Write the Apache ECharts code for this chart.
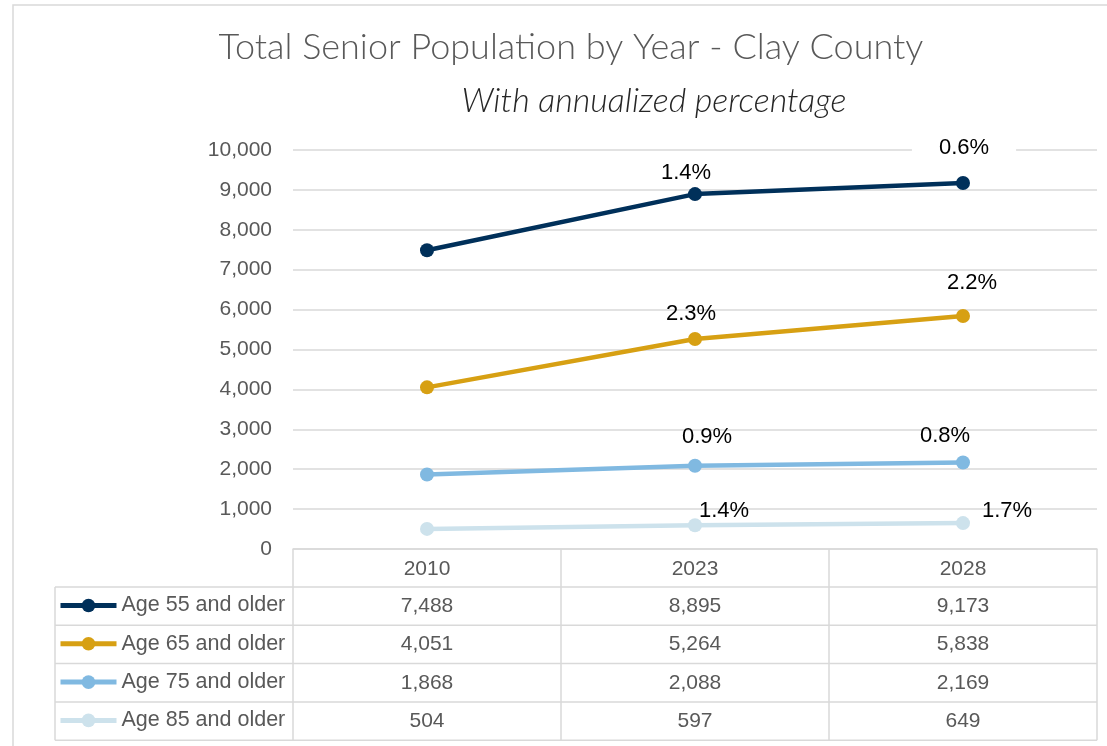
<!DOCTYPE html>
<html>
<head>
<meta charset="utf-8">
<script src="https://cdn.jsdelivr.net/npm/echarts@6/dist/echarts.min.js"></script>
<style>
  html, body { margin: 0; padding: 0; background: #fff; }
  #main { width: 1107px; height: 746px; }
</style>
</head>
<body>
<div id="main"></div>
<script>
// ---- data ----
const years = ['2010', '2023', '2028'];
const seriesNames = ['Age 55 and older', 'Age 65 and older', 'Age 75 and older', 'Age 85 and older'];
const age55 = [7488, 8895, 9173];
const age65 = [4051, 5264, 5838];
const age75 = [1868, 2088, 2169];
const age85 = [504, 597, 649];
const pct55 = [null, '1.4%', '0.6%'];
const pct65 = [null, '2.3%', '2.2%'];
const pct75 = [null, '0.9%', '0.8%'];
const pct85 = [null, '1.4%', '1.7%'];
const yTicks = [0, 1000, 2000, 3000, 4000, 5000, 6000, 7000, 8000, 9000, 10000];

// ---- styles (kept apart from data) ----
const colors = ['#00305a', '#d7a013', '#80b9e1', '#cde2ec'];
const labelOffsets = [
  [null, [-9, 2], [1, -10]],
  [null, [-4, -2], [9, -10]],
  [null, [12, -6], [-18, -4]],
  [null, [29, 9], [44, 11]]
];
const TXT = '#595959';
const LINE = '#d9d9d9';
const FONT = '"Liberation Sans", Arial, sans-serif';

const values = [age55, age65, age75, age85];
const pcts = [pct55, pct65, pct75, pct85];
const fmt = v => v.toLocaleString('en-US');

const chart = echarts.init(document.getElementById('main'), null, { renderer: 'canvas' });

const series = values.map((vals, s) => ({
  name: seriesNames[s],
  type: 'line',
  data: vals.map((v, i) => {
    const p = pcts[s][i];
    const item = { value: v };
    if (p) {
      const lbl = {
        show: true,
        formatter: p,
        position: 'top',
        offset: labelOffsets[s][i],
        color: '#000',
        fontSize: 22,
        fontFamily: FONT
      };
      if (s === 0 && i === 2) {
        lbl.backgroundColor = '#fff';
        lbl.padding = [2, 27];
      }
      item.label = lbl;
    }
    return item;
  }),
  symbol: 'circle',
  symbolSize: 14,
  lineStyle: { width: 4.5, color: colors[s] },
  itemStyle: { color: colors[s] },
  label: { show: false },
  z: 10 - s,
  animation: false
}));

const option = {
  animation: false,
  backgroundColor: '#fff',
  color: colors,
  title: [
    {
      text: 'Total Senior Population by Year - Clay County',
      left: 566, top: 24, textAlign: 'center',
      textStyle: { fontFamily: 'Lato, "Open Sans", sans-serif', fontWeight: 300, fontSize: 36, color: TXT }
    },
    {
      text: 'With annualized percentage',
      left: 649, top: 79, textAlign: 'center',
      textStyle: { fontFamily: 'Lato, "Open Sans", sans-serif', fontStyle: 'italic', fontWeight: 300, fontSize: 34, color: '#262626' }
    }
  ],
  grid: { left: 293, right: 10, top: 150, bottom: 197, containLabel: false },
  xAxis: {
    type: 'category',
    data: years,
    boundaryGap: true,
    axisLine: { show: true, lineStyle: { color: LINE, width: 1.5 } },
    axisTick: { show: false },
    axisLabel: { color: TXT, fontSize: 21, fontFamily: FONT, margin: 10 },
    splitLine: { show: false }
  },
  yAxis: {
    type: 'value',
    min: yTicks[0],
    max: yTicks[yTicks.length - 1],
    interval: yTicks[1] - yTicks[0],
    axisLine: { show: false },
    axisTick: { show: false },
    axisLabel: { color: TXT, fontSize: 21, fontFamily: FONT, margin: 21, formatter: v => fmt(v) },
    splitLine: { lineStyle: { color: LINE, width: 1.5 } }
  },
  legend: {
    orient: 'vertical',
    left: 58,
    top: 594,
    padding: 0,
    itemWidth: 56,
    itemHeight: 17,
    itemGap: 15.3,
    data: seriesNames,
    lineStyle: { width: 5 },
    textStyle: { color: TXT, fontSize: 21.5, fontFamily: FONT, lineHeight: 23 },
    selectedMode: false
  },
  series: series
};

chart.setOption(option);

// ---- data table drawn from the arrays, positioned with the chart's own axes ----
function buildTable() {
  const yAxisZero = chart.convertToPixel({ yAxisIndex: 0 }, 0);
  const centers = years.map((y, i) => chart.convertToPixel({ xAxisIndex: 0 }, i));
  const band = centers.length > 1 ? centers[1] - centers[0] : 268;
  const gridLeft = centers[0] - band / 2;
  const gridRight = centers[centers.length - 1] + band / 2;
  const headerH = 38;
  const rowH = 38.3;
  const tableLeft = 55;
  const els = [];
  const ln = (x1, y1, x2, y2) => els.push({
    type: 'line', silent: true,
    shape: { x1, y1, x2, y2 },
    style: { stroke: LINE, lineWidth: 1.5 }
  });
  const top0 = yAxisZero;
  const bodyTop = top0 + headerH;
  const bottom = bodyTop + rowH * seriesNames.length;
  for (let r = 0; r <= seriesNames.length; r++) {
    const y = bodyTop + r * rowH;
    ln(tableLeft, y, gridRight, y);
  }
  ln(tableLeft, bodyTop, tableLeft, bottom);
  for (let c = 0; c <= years.length; c++) {
    const x = gridLeft + c * band;
    ln(x, top0, x, bottom);
  }
  values.forEach((vals, s) => {
    const cy = bodyTop + s * rowH + rowH / 2;
    vals.forEach((v, i) => {
      els.push({
        type: 'text', silent: true,
        x: centers[i], y: cy,
        style: { text: fmt(v), fill: TXT, fontSize: 21, fontFamily: FONT, align: 'center', verticalAlign: 'middle' }
      });
    });
  });
  els.push({
    type: 'rect', silent: true,
    shape: { x: 13, y: 5, width: 1200, height: 1000 },
    style: { fill: null, stroke: LINE, lineWidth: 1.5 }
  });
  chart.setOption({ graphic: { elements: els } });
}
buildTable();
</script>
</body>
</html>
